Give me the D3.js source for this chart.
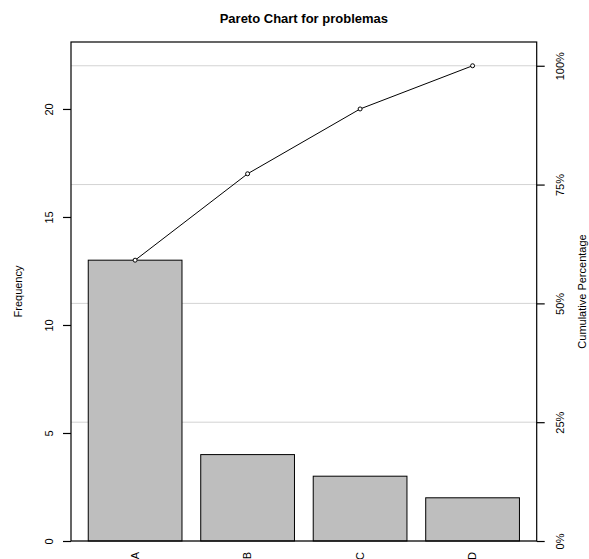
<html>
<head>
<script src="https://d3js.org/d3.v7.min.js"></script>
<style>
  body { margin: 0; background: #fff; }
  svg text { font-family: "Liberation Sans", Arial, sans-serif; fill: black; }
</style>
</head>
<body>
<svg id="chart" width="589" height="559"></svg>
<script>
// data
var categories = ["A", "B", "C", "D"];
var freq = [13, 4, 3, 2];
var freqTicks = [0, 5, 10, 15, 20];
var pctTicks = [0, 0.25, 0.5, 0.75, 1];

(function () {
  var pLeft = 71, pRight = 536.7, pTop = 42, pBottom = 541;

  var total = d3.sum(freq);
  var cum = Array.from(d3.cumsum(freq));

  var svg = d3.select("#chart");

  // barplot style x positions: space 0.2, width 1
  var barW = 1, space = 0.2;
  var xl = 0.2, xr = categories.length * (barW + space);
  var pad = (xr - xl) * 0.04;
  var x = d3.scaleLinear().domain([xl - pad, xr + pad]).range([pLeft, pRight]);
  var y = d3.scaleLinear().domain([0, total * 1.05]).range([pBottom, pTop]);
  var yPct = d3.scaleLinear().domain([0, 1]).range([y(0), y(total)]);

  function barLeft(i) { return space + i * (barW + space); }
  function barMid(i) { return barLeft(i) + barW / 2; }

  // grid lines at percentage ticks
  svg.append("g")
    .selectAll("line")
    .data(pctTicks)
    .enter()
    .append("line")
    .attr("x1", pLeft)
    .attr("x2", pRight)
    .attr("y1", function (d) { return yPct(d); })
    .attr("y2", function (d) { return yPct(d); })
    .attr("stroke", "#d3d3d3")
    .attr("stroke-width", 1);

  // bars
  svg.append("g")
    .selectAll("rect")
    .data(freq)
    .enter()
    .append("rect")
    .attr("x", function (d, i) { return x(barLeft(i)); })
    .attr("width", function () { return x(barW) - x(0); })
    .attr("y", function (d) { return y(d); })
    .attr("height", function (d) { return y(0) - y(d); })
    .attr("fill", "#bebebe")
    .attr("stroke", "black")
    .attr("stroke-width", 1);

  // cumulative line + points
  var line = d3.line()
    .x(function (d, i) { return x(barMid(i)); })
    .y(function (d) { return y(d); });

  svg.append("path")
    .datum(cum)
    .attr("d", line)
    .attr("fill", "none")
    .attr("stroke", "black")
    .attr("stroke-width", 1);

  svg.append("g")
    .selectAll("circle")
    .data(cum)
    .enter()
    .append("circle")
    .attr("cx", function (d, i) { return x(barMid(i)); })
    .attr("cy", function (d) { return y(d); })
    .attr("r", 2)
    .attr("fill", "white")
    .attr("stroke", "black")
    .attr("stroke-width", 1);

  // box
  svg.append("rect")
    .attr("x", pLeft)
    .attr("y", pTop)
    .attr("width", pRight - pLeft)
    .attr("height", pBottom - pTop)
    .attr("fill", "none")
    .attr("stroke", "black")
    .attr("stroke-width", 1.2);

  // left axis
  var gl = svg.append("g")
    .attr("transform", "translate(" + pLeft + ",0)")
    .call(d3.axisLeft(y).tickValues(freqTicks).tickSize(8).tickFormat(d3.format("d")));
  gl.select(".domain").remove();
  gl.selectAll("line").attr("stroke-width", 1.2);
  gl.selectAll("text")
    .attr("transform", "rotate(-90)")
    .attr("x", 0)
    .attr("y", -18)
    .attr("dy", 0)
    .attr("text-anchor", "middle")
    .style("font-size", "11px")
    .style("font-family", "Liberation Sans, Arial, sans-serif");

  // right axis
  var gr = svg.append("g")
    .attr("transform", "translate(" + pRight + ",0)")
    .call(d3.axisRight(yPct).tickValues(pctTicks).tickSize(8).tickFormat(d3.format(".0%")));
  gr.select(".domain").remove();
  gr.selectAll("line").attr("stroke-width", 1.2);
  gr.selectAll("text")
    .attr("transform", "rotate(-90)")
    .attr("x", 0)
    .attr("y", 27)
    .attr("dy", 0)
    .attr("text-anchor", "middle")
    .style("font-size", "11px")
    .style("font-family", "Liberation Sans, Arial, sans-serif");

  // category labels (vertical)
  svg.append("g")
    .selectAll("text")
    .data(categories)
    .enter()
    .append("text")
    .attr("transform", function (d, i) {
      return "translate(" + x(barMid(i)) + "," + (pBottom + 11) + ") rotate(-90)";
    })
    .attr("text-anchor", "end")
    .attr("dy", "0.35em")
    .style("font-size", "11px")
    .text(function (d) { return d; });

  // title
  svg.append("text")
    .attr("x", (pLeft + pRight) / 2)
    .attr("y", 23)
    .attr("text-anchor", "middle")
    .style("font-size", "13px")
    .style("font-weight", "bold")
    .text("Pareto Chart for problemas");

  // axis titles
  svg.append("text")
    .attr("transform", "translate(22," + (pTop + pBottom) / 2 + ") rotate(-90)")
    .attr("text-anchor", "middle")
    .style("font-size", "11px")
    .text("Frequency");

  svg.append("text")
    .attr("transform", "translate(586," + (pTop + pBottom) / 2 + ") rotate(-90)")
    .attr("text-anchor", "middle")
    .style("font-size", "11px")
    .text("Cumulative Percentage");
})();
</script>
</body>
</html>
